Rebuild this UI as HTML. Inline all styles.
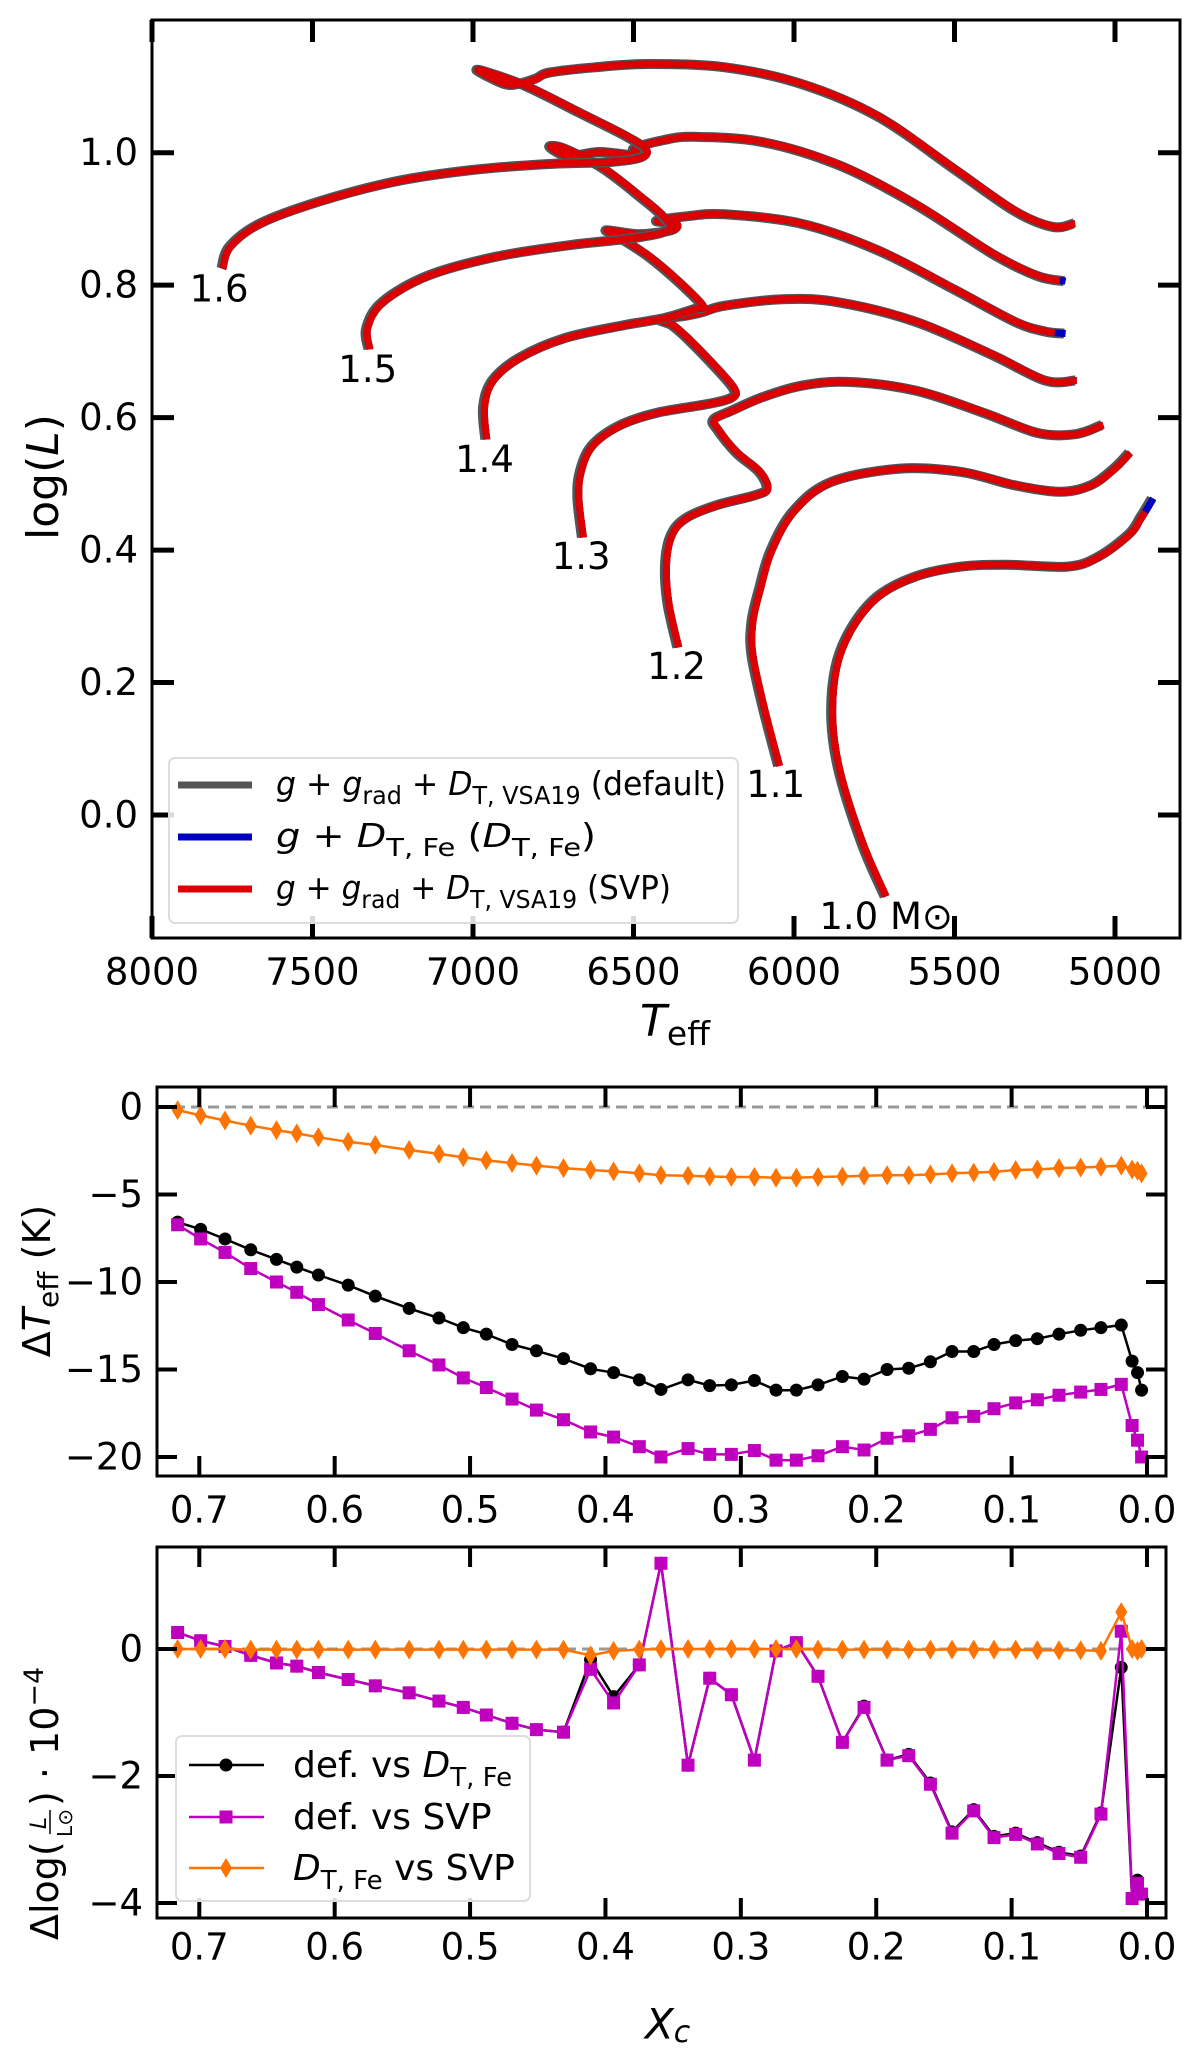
<!DOCTYPE html>
<html><head><meta charset="utf-8"><style>
html,body{margin:0;padding:0;background:#fff}
svg{display:block}
text{font-family:"DejaVu Sans","Liberation Sans",sans-serif;fill:#000}
</style></head><body>
<svg id="fig" xmlns="http://www.w3.org/2000/svg" width="1200" height="2054" viewBox="0 0 1200 2054">
<g id="hr"></g>
<g id="p1"></g>
<g id="p2"></g>
</svg>
<script>
// ---- HR diagram data (Teff, logL) ----
const masses = ["1.0","1.1","1.2","1.3","1.4","1.5","1.6"];
const t10T=[5713,5784,5855,5879,5867,5819,5736,5618,5475,5333,5143,5048,4953,4917,4881];
const t10L=[-0.123,-0.044,0.064,0.143,0.222,0.281,0.330,0.360,0.375,0.378,0.375,0.390,0.424,0.449,0.478];
const t11T=[6045,6093,6128,6128,6105,6069,5998,5879,5665,5475,5309,5166,5071,5000,4952];
const t11L=[0.074,0.163,0.242,0.291,0.340,0.399,0.459,0.503,0.523,0.518,0.498,0.488,0.498,0.523,0.547];
const t12T=[6359,6390,6397,6378,6330,6235,6116,6081,6105,6176,6235,6247,6188,6093,5974,5831,5618,5404,5238,5119,5036];
const t12L=[0.253,0.321,0.380,0.424,0.449,0.468,0.483,0.493,0.518,0.547,0.582,0.597,0.611,0.631,0.648,0.654,0.641,0.607,0.577,0.575,0.589];
const t13T=[6656,6670,6663,6627,6544,6425,6259,6188,6188,6259,6330,6378,6413,6330,6283,6211,6021,5855,5618,5380,5214,5119];
const t13L=[0.419,0.478,0.518,0.557,0.587,0.607,0.621,0.631,0.646,0.685,0.720,0.740,0.748,0.754,0.759,0.769,0.779,0.774,0.745,0.695,0.656,0.656];
const t14T=[6957,6964,6936,6853,6710,6520,6402,6306,6283,6354,6449,6544,6580,6480,6378,6366,6425,6330,6211,5974,5736,5499,5309,5214,5154];
const t14L=[0.567,0.616,0.656,0.690,0.720,0.740,0.750,0.764,0.769,0.804,0.843,0.873,0.883,0.877,0.883,0.893,0.897,0.904,0.907,0.893,0.853,0.794,0.745,0.730,0.727];
const t15T=[7321,7328,7280,7138,6924,6686,6496,6390,6402,6473,6591,6710,6758,6700,6600,6473,6496,6402,6306,6093,5855,5618,5380,5238,5154];
const t15L=[0.703,0.735,0.774,0.814,0.843,0.861,0.871,0.883,0.902,0.932,0.976,1.006,1.009,0.995,1.001,0.995,1.006,1.019,1.024,1.016,0.981,0.922,0.848,0.814,0.806];
const t16T=[7779,7755,7660,7470,7233,6995,6758,6568,6473,6461,6520,6663,6829,6948,6983,6900,6853,6800,6758,6615,6449,6211,5974,5736,5499,5309,5190,5124];
const t16L=[0.825,0.858,0.893,0.927,0.957,0.974,0.983,0.986,0.993,1.006,1.025,1.060,1.100,1.121,1.124,1.104,1.104,1.112,1.121,1.129,1.134,1.129,1.104,1.055,0.976,0.912,0.888,0.893];
const labelT=[5713,6057,6366,6663,6964,7328,7791];
const labelL=[-0.153,0.046,0.224,0.39,0.537,0.673,0.794];
const hrXTicks=[8000,7500,7000,6500,6000,5500,5000];
const hrYTicks=[0.0,0.2,0.4,0.6,0.8,1.0];

// ---- Panel data ----
const xc=[0.716,0.699,0.681,0.662,0.643,0.628,0.612,0.590,0.570,0.545,0.523,0.505,0.488,0.469,0.451,0.431,0.411,0.394,0.375,0.359,0.339,0.323,0.307,0.290,0.274,0.259,0.243,0.225,0.209,0.192,0.176,0.160,0.144,0.128,0.113,0.097,0.081,0.065,0.049,0.034,0.019,0.011,0.007,0.004];
const dtBlack=[-6.58,-6.99,-7.54,-8.16,-8.71,-9.15,-9.60,-10.18,-10.81,-11.51,-12.06,-12.61,-12.98,-13.57,-13.93,-14.38,-14.96,-15.18,-15.59,-16.14,-15.59,-15.92,-15.88,-15.63,-16.18,-16.18,-15.88,-15.40,-15.55,-15.00,-14.93,-14.56,-13.97,-13.97,-13.57,-13.35,-13.24,-12.98,-12.76,-12.61,-12.46,-14.52,-15.18,-16.18];
const dtMag=[-6.73,-7.54,-8.31,-9.23,-10.0,-10.59,-11.29,-12.17,-12.94,-13.93,-14.74,-15.48,-16.03,-16.69,-17.32,-17.87,-18.57,-18.86,-19.41,-20.0,-19.52,-19.85,-19.85,-19.63,-20.18,-20.18,-19.93,-19.41,-19.60,-18.93,-18.79,-18.42,-17.76,-17.68,-17.24,-16.91,-16.73,-16.47,-16.29,-16.14,-15.85,-18.20,-19.04,-20.0];
const dtOr=[-0.18,-0.48,-0.77,-1.07,-1.32,-1.51,-1.73,-1.99,-2.17,-2.46,-2.68,-2.87,-3.05,-3.20,-3.35,-3.49,-3.60,-3.68,-3.79,-3.90,-3.93,-3.97,-4.0,-4.0,-4.04,-4.04,-4.0,-3.97,-3.93,-3.90,-3.90,-3.86,-3.79,-3.75,-3.71,-3.60,-3.57,-3.49,-3.46,-3.42,-3.35,-3.57,-3.64,-3.79];
const dlMag=[0.26,0.13,0.04,-0.10,-0.22,-0.27,-0.37,-0.48,-0.58,-0.69,-0.82,-0.92,-1.04,-1.17,-1.27,-1.31,-0.32,-0.85,-0.25,1.35,-1.83,-0.46,-0.72,-1.75,-0.03,0.10,-0.43,-1.47,-0.92,-1.75,-1.68,-2.13,-2.90,-2.55,-2.97,-2.92,-3.07,-3.22,-3.28,-2.60,0.28,-3.93,-3.69,-3.86];
const dlBlack=[0.26,0.13,0.04,-0.10,-0.22,-0.27,-0.37,-0.48,-0.58,-0.69,-0.82,-0.92,-1.04,-1.17,-1.27,-1.31,-0.17,-0.75,-0.25,1.35,-1.83,-0.46,-0.72,-1.75,-0.03,0.10,-0.43,-1.47,-0.90,-1.75,-1.66,-2.11,-2.88,-2.53,-2.95,-2.90,-3.05,-3.20,-3.26,-2.58,-0.29,-3.93,-3.64,-3.86];
const dlOr=[0.0,0.0,0.0,-0.01,-0.01,-0.01,-0.01,-0.01,-0.01,-0.01,-0.01,-0.01,-0.01,-0.01,-0.01,-0.01,-0.10,-0.03,-0.01,0.0,0.0,0.0,0.0,0.0,0.0,0.0,-0.01,-0.01,-0.01,-0.01,-0.01,-0.01,-0.01,-0.01,-0.01,-0.01,-0.02,-0.02,-0.02,-0.03,0.58,0.0,-0.03,0.0];
const p1YTicks=[0,-5,-10,-15,-20];
const p2YTicks=[0,-2,-4];
const pXTicks=[0.7,0.6,0.5,0.4,0.3,0.2,0.1,0.0];

const NS="http://www.w3.org/2000/svg";
function mk(tag,parent,attrs){const e=document.createElementNS(NS,tag);for(const k in attrs)e.setAttribute(k,attrs[k]);parent.appendChild(e);return e;}
function lin(d0,d1,p0,p1){return v=>p0+(v-d0)*(p1-p0)/(d1-d0);}
const FS=37;

function frame(g,L,T,R,B,xs,ys,xt,yt,xfmt,yfmt,tickLen,xlabY,tw){
  const f=mk('rect',g,{x:L,y:T,width:R-L,height:B-T,fill:'none',stroke:'#000','stroke-width':3});
  
  
  xt.forEach(v=>{const x=xs(v);
    const t1=mk('line',g,{x1:x,x2:x,y1:B,y2:B-tickLen,stroke:'#000','stroke-width':tw});
    
    
    const t2=mk('line',g,{x1:x,x2:x,y1:T,y2:T+tickLen,stroke:'#000','stroke-width':tw});
    
    
    const tx=mk('text',g,{x:x,y:xlabY,'text-anchor':'middle','font-size':FS,'dominant-baseline':'central'});
    tx.textContent=xfmt(v);
    
    
  });
  yt.forEach(v=>{const y=ys(v);
    const t1=mk('line',g,{x1:L,x2:L+tickLen,y1:y,y2:y,stroke:'#000','stroke-width':tw});
    
    
    const t2=mk('line',g,{x1:R,x2:R-tickLen,y1:y,y2:y,stroke:'#000','stroke-width':tw});
    
    
    const tx=mk('text',g,{x:L-14,y:y,'text-anchor':'end','font-size':FS,'dominant-baseline':'central'});
    tx.textContent=yfmt(v);
    
    
  });
}
function pathD(xs,ys,X,Y){return X.map((v,i)=>(i?'L':'M')+xs(v).toFixed(1)+','+ys(Y[i]).toFixed(1)).join(' ');}
function smoothD(xs,ys,X,Y){
  const P=X.map((v,i)=>[xs(v),ys(Y[i])]);
  let d='M'+P[0][0].toFixed(1)+','+P[0][1].toFixed(1);
  for(let i=0;i<P.length-1;i++){
    const p0=P[Math.max(0,i-1)],p1=P[i],p2=P[i+1],p3=P[Math.min(P.length-1,i+2)];
    const c1=[p1[0]+(p2[0]-p0[0])/6,p1[1]+(p2[1]-p0[1])/6];
    const c2=[p2[0]-(p3[0]-p1[0])/6,p2[1]-(p3[1]-p1[1])/6];
    d+=' C'+c1[0].toFixed(1)+','+c1[1].toFixed(1)+' '+c2[0].toFixed(1)+','+c2[1].toFixed(1)+' '+p2[0].toFixed(1)+','+p2[1].toFixed(1);
  }
  return d;
}
const minus=s=>s.replace('-','\u2212');

// ===== HR diagram =====
(function(){
  const g=document.getElementById('hr');
  const L=152,R=1180,T=20,B=938;
  const xs=lin(8000,5000,152,1115), ys=lin(0,1,815,152.7);
  const tracksT=[t10T,t11T,t12T,t13T,t14T,t15T,t16T], tracksL=[t10L,t11L,t12L,t13L,t14L,t15L,t16L];
  const clip=mk('clipPath',g,{id:'hrclip'});
  mk('rect',clip,{x:L,y:T,width:R-L,height:B-T});
  const cg=mk('g',g,{'clip-path':'url(#hrclip)'});
  const blueFrac=[0.025,0,0,0,0.012,0.003,0];
  tracksT.forEach((TT,i)=>{
    const d=smoothD(xs,ys,TT,tracksL[i]);
    const gr=mk('path',cg,{d:d,fill:'none',stroke:'#555','stroke-width':10,'stroke-linejoin':'round',transform:'translate(-1.5,0)'});
    
    
    const bl=mk('path',cg,{d:d,fill:'none',stroke:'#0000c0','stroke-width':7});
    
    
    const rd=mk('path',cg,{d:d,fill:'none',stroke:'#dd0000','stroke-width':7,'stroke-linejoin':'round'});
    
    
    const len=rd.getTotalLength();
    const bf=blueFrac[i]>0?Math.max(blueFrac[i]*len,6):0;
    rd.setAttribute('stroke-dasharray',(len-bf)+' '+(bf+10));
    const lb=mk('text',g,{x:xs(labelT[i]),y:ys(labelL[i]),'text-anchor':'middle','dominant-baseline':'central','font-size':FS});
    lb.textContent=(i===0)?'1.0 M\u2299':masses[i];
    
    
  });
  frame(g,L,T,R,B,xs,ys,hrXTicks,hrYTicks,v=>String(v),v=>v.toFixed(1),22,972,5);
  const xl=mk('text',g,{x:640,y:1036,'font-size':44,'font-style':'italic'});
  xl.innerHTML='T<tspan font-size="33" font-style="normal" dy="9">eff</tspan>';
  
  
  const yl=mk('text',g,{x:0,y:0,'font-size':44,'text-anchor':'middle',transform:'translate(58,477) rotate(-90)'});
  yl.innerHTML='log(<tspan font-style="italic">L</tspan>)';
  
  
  // legend
  const lg=mk('g',g,{});
  
  
  mk('rect',lg,{x:169,y:758,width:569,height:165,rx:6,fill:'rgba(255,255,255,0.85)',stroke:'#ddd','stroke-width':2});
  const cols=['#555','#0000c0','#dd0000'];
  const ly=[785,837,889];
  const sub='font-size="25" font-style="normal" dy="9"';
  const txt=[
    '<tspan font-style="italic">g</tspan> + <tspan font-style="italic">g</tspan><tspan '+sub+'>rad</tspan><tspan dy="-9"> + </tspan><tspan font-style="italic">D</tspan><tspan '+sub+'>T, VSA19</tspan><tspan dy="-9"> (default)</tspan>',
    '<tspan font-style="italic">g</tspan> + <tspan font-style="italic">D</tspan><tspan '+sub+'>T, Fe</tspan><tspan dy="-9"> (</tspan><tspan font-style="italic">D</tspan><tspan '+sub+'>T, Fe</tspan><tspan dy="-9">)</tspan>',
    '<tspan font-style="italic">g</tspan> + <tspan font-style="italic">g</tspan><tspan '+sub+'>rad</tspan><tspan dy="-9"> + </tspan><tspan font-style="italic">D</tspan><tspan '+sub+'>T, VSA19</tspan><tspan dy="-9"> (SVP)</tspan>'];
  ly.forEach((y,i)=>{
    const l=mk('line',lg,{x1:178,x2:252,y1:y,y2:y,stroke:cols[i],'stroke-width':7});
    
    
    const t=mk('text',lg,{x:276,y:y+10,'font-size':33,'textLength':i===1?320:(i===0?450:395),'lengthAdjust':'spacingAndGlyphs'});
    t.innerHTML=txt[i];
    
    
  });
})();

function marker(g,type,x,y,col){
  let e;
  if(type==='o') e=mk('circle',g,{cx:x,cy:y,r:6.5,fill:col});
  else if(type==='s') e=mk('rect',g,{x:x-6.5,y:y-6.5,width:13,height:13,fill:col});
  else e=mk('polygon',g,{points:`${x},${y-10} ${x+6},${y} ${x},${y+10} ${x-6},${y}`,fill:col});
  return e;
}
function series(g,xs,ys,X,Y,col,type,name){
  const p=mk('path',g,{d:pathD(xs,ys,X,Y),fill:'none',stroke:col,'stroke-width':2.5});
  
  
  X.forEach((v,i)=>{const m=marker(g,type,xs(v),ys(Y[i]),col);
    
    });
}
const BL='#000',MG='#bf00bf',OR='#ff7400';

// ===== Panel 1 =====
(function(){
  const g=document.getElementById('p1');
  const L=157,R=1166,T=1087,B=1476;
  const xs=lin(0.7,0.0,199.3,1147), ys=lin(0,-20,1107,1457);
  const z=mk('line',g,{x1:L,x2:R,y1:ys(0),y2:ys(0),stroke:'#999','stroke-width':3,'stroke-dasharray':'11,6'});
  
  
  series(g,xs,ys,xc,dtOr,OR,'d','dtfe-vs-svp');
  series(g,xs,ys,xc,dtBlack,BL,'o','def-vs-dtfe');
  series(g,xs,ys,xc,dtMag,MG,'s','def-vs-svp');
  frame(g,L,T,R,B,xs,ys,pXTicks,p1YTicks,v=>v.toFixed(1),v=>minus(String(v)),20,1510,4);
  const yl=mk('text',g,{x:0,y:0,'font-size':38,'text-anchor':'middle',transform:'translate(50,1281) rotate(-90)'});
  yl.innerHTML='Δ<tspan font-style="italic">T</tspan><tspan font-size="28" dy="8">eff</tspan><tspan dy="-8"> (K)</tspan>';
  
  
})();

// ===== Panel 2 =====
(function(){
  const g=document.getElementById('p2');
  const L=157,R=1166,T=1547,B=1918;
  const xs=lin(0.7,0.0,199.3,1147), ys=lin(0,-4,1649,1903);
  const z=mk('line',g,{x1:L,x2:R,y1:ys(0),y2:ys(0),stroke:'#999','stroke-width':3,'stroke-dasharray':'11,6'});
  
  
  series(g,xs,ys,xc,dlBlack,BL,'o','def-vs-dtfe');
  series(g,xs,ys,xc,dlMag,MG,'s','def-vs-svp');
  series(g,xs,ys,xc,dlOr,OR,'d','dtfe-vs-svp');
  frame(g,L,T,R,B,xs,ys,pXTicks,p2YTicks,v=>v.toFixed(1),v=>minus(String(v)),20,1947,4);
  const yl=mk('g',g,{transform:'translate(58,1740) rotate(-90)'});
  
  
  const a=mk('text',yl,{x:-200,y:0,'font-size':38});
  a.textContent='Δlog(';
  const n=mk('text',yl,{x:-83,y:-12,'font-size':22,'font-style':'italic','text-anchor':'middle'});
  n.textContent='L';
  mk('line',yl,{x1:-94,x2:-70,y1:-8,y2:-8,stroke:'#000','stroke-width':1.5});
  const dd=mk('text',yl,{x:-83,y:14,'font-size':20,'text-anchor':'middle'});
  dd.textContent='L⊙';
  const b=mk('text',yl,{x:-66,y:0,'font-size':38});
  b.innerHTML=') · 10<tspan font-size="27" dy="-15">−4</tspan>';
  const xl=mk('text',g,{x:645,y:2024,'font-size':42,'font-style':'italic','dominant-baseline':'central'});
  xl.innerHTML='X<tspan font-size="30" dy="8">c</tspan>';
  
  
  const lg=mk('g',g,{});
  
  
  mk('rect',lg,{x:176,y:1736,width:354,height:165,rx:6,fill:'rgba(255,255,255,0.85)',stroke:'#ddd','stroke-width':2});
  const cols=[BL,MG,OR],types=['o','s','d'],ly=[1765,1817,1868];
  const sub='font-size="26" dy="9"';
  const txt=['def. vs <tspan font-style="italic">D</tspan><tspan '+sub+'>T, Fe</tspan>','def. vs SVP','<tspan font-style="italic">D</tspan><tspan '+sub+'>T, Fe</tspan><tspan dy="-9"> vs SVP</tspan>'];
  ly.forEach((y,i)=>{
    const l=mk('line',lg,{x1:189,x2:264,y1:y,y2:y,stroke:cols[i],'stroke-width':2.5});
    
    
    const m=marker(lg,types[i],226,y,cols[i]);
    
    
    const t=mk('text',lg,{x:293,y:y+12,'font-size':36});
    t.innerHTML=txt[i];
    
    
  });
})();
</script>
</body></html>
